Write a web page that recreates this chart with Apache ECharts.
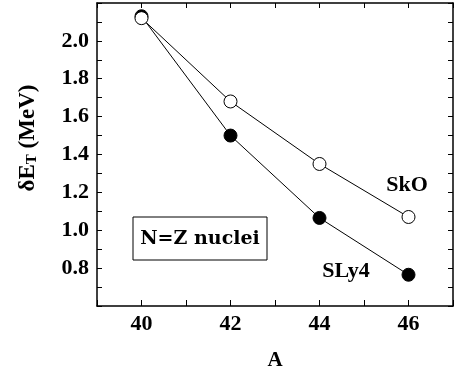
<!DOCTYPE html>
<html>
<head>
<meta charset="utf-8">
<script src="https://cdn.jsdelivr.net/npm/echarts@6/dist/echarts.min.js"></script>
<style>
  html, body { margin: 0; padding: 0; background: #fff; }
  #chart { width: 456px; height: 376px; }
</style>
</head>
<body>
<div id="chart"></div>
<script>
// mass numbers (N=Z nuclei)
const massA = [40, 42, 44, 46];
// delta E_T in MeV
const skoValues = [2.12, 1.68, 1.35, 1.07];
const sly4Values = [2.13, 1.50, 1.065, 0.765];
const xLabels = [40, 42, 44, 46];
const yLabels = ['0.8', '1.0', '1.2', '1.4', '1.6', '1.8', '2.0'];

const serif = "'Liberation Serif', Tinos, 'Times New Roman', Times, serif";

let myChart = echarts.init(document.getElementById('chart'));

const axisLineStyle = { color: '#000', width: 1.5 };

myChart.setOption({
  animation: false,
  grid: {
    left: 97,
    right: 1,
    top: 3,
    bottom: 69
  },
  xAxis: [
    {
      type: 'value',
      min: 39,
      max: 47,
      interval: 1,
      name: 'A',
      nameLocation: 'middle',
      nameGap: 44,
      nameTextStyle: { fontFamily: serif, fontWeight: 'bold', fontSize: 21, color: '#000' },
      axisLine: { lineStyle: axisLineStyle },
      axisTick: { inside: true, length: 6, lineStyle: { color: '#000', width: 1 } },
      splitLine: { show: false },
      axisLabel: {
        margin: 7,
        fontFamily: serif,
        fontWeight: 'bold',
        fontSize: 22,
        color: '#000',
        formatter: v => (xLabels.indexOf(v) >= 0 ? String(v) : '')
      }
    },
    {
      type: 'value',
      position: 'top',
      min: 39,
      max: 47,
      interval: 1,
      axisLine: { lineStyle: axisLineStyle },
      axisTick: { inside: true, length: 5, lineStyle: { color: '#000', width: 1 } },
      splitLine: { show: false },
      axisLabel: { show: false }
    }
  ],
  yAxis: [
    {
      type: 'value',
      min: 0.6,
      max: 2.2,
      interval: 0.1,
      axisLine: { lineStyle: axisLineStyle },
      axisTick: { inside: true, length: 5, lineStyle: { color: '#000', width: 1 } },
      splitLine: { show: false },
      axisLabel: {
        margin: 8,
        fontFamily: serif,
        fontWeight: 'bold',
        fontSize: 22,
        color: '#000',
        formatter: v => {
          let s = v.toFixed(1);
          return yLabels.indexOf(s) >= 0 ? s : '';
        }
      }
    },
    {
      type: 'value',
      position: 'right',
      min: 0.6,
      max: 2.2,
      interval: 0.1,
      axisLine: { lineStyle: axisLineStyle },
      axisTick: { inside: true, length: 5, lineStyle: { color: '#000', width: 1 } },
      splitLine: { show: false },
      axisLabel: { show: false }
    }
  ],
  series: [
    {
      name: 'SLy4',
      type: 'line',
      data: massA.map((a, i) => [a, sly4Values[i]]),
      symbol: 'circle',
      symbolSize: 13,
      lineStyle: { color: '#000', width: 1 },
      itemStyle: { color: '#000', borderColor: '#000', borderWidth: 1 },
      z: 3
    },
    {
      name: 'SkO',
      type: 'line',
      data: massA.map((a, i) => [a, skoValues[i]]),
      symbol: 'circle',
      symbolSize: 13,
      lineStyle: { color: '#000', width: 1 },
      itemStyle: { color: '#fff', borderColor: '#000', borderWidth: 1 },
      z: 4
    }
  ],
  graphic: [
    {
      type: 'text',
      x: 28,
      y: 138,
      rotation: Math.PI / 2,
      style: {
        text: '{m|δE}{s|T}{m| (MeV)}',
        align: 'center',
        verticalAlign: 'middle',
        rich: {
          m: { fontFamily: serif, fontWeight: 'bold', fontSize: 23, fill: '#000' },
          s: { fontFamily: serif, fontWeight: 'bold', fontSize: 15, fill: '#000', verticalAlign: 'bottom', padding: [8, 0, 0, 0] }
        }
      }
    },
    {
      type: 'rect',
      shape: { x: 133, y: 217, width: 134, height: 43 },
      style: { fill: '#fff', stroke: '#000', lineWidth: 1 },
      z: 10
    },
    {
      type: 'text',
      x: 200,
      y: 239,
      style: {
        text: 'N=Z nuclei',
        align: 'center',
        verticalAlign: 'middle',
        fontFamily: 'DejaVu Serif',
        fontWeight: 'bold',
        fontSize: 19,
        fill: '#000'
      },
      z: 11
    },
    {
      type: 'text',
      x: 407,
      y: 185,
      style: {
        text: 'SkO',
        align: 'center',
        verticalAlign: 'middle',
        fontFamily: serif,
        fontWeight: 'bold',
        fontSize: 22,
        fill: '#000'
      }
    },
    {
      type: 'text',
      x: 346,
      y: 271,
      style: {
        text: 'SLy4',
        align: 'center',
        verticalAlign: 'middle',
        fontFamily: serif,
        fontWeight: 'bold',
        fontSize: 22,
        fill: '#000'
      }
    }
  ]
});

window.addEventListener('resize', () => {
  myChart.resize();
});
</script>
</body>
</html>
